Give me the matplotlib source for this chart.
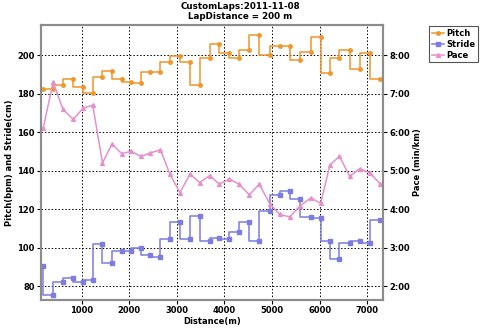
import matplotlib
matplotlib.use('Agg')
import matplotlib.pyplot as plt
from matplotlib.ticker import FuncFormatter

# 每圈距离 (m)
distance = [193, 400, 606, 824, 1027, 1231, 1437, 1637, 1841, 2040,
            2240, 2445, 2655, 2855, 3065, 3275, 3479, 3689, 3891, 4101,
            4305, 4521, 4731, 4950, 5160, 5370, 5586, 5811, 6021, 6216,
            6416, 6630, 6840, 7055, 7267]

# 步频 (bpm)
pitch = [182.5, 182.5, 184.5, 187.6, 183.6, 180.5, 188.4, 191.6, 187.4, 186.2,
         185.3, 191.3, 191.3, 196.2, 199.6, 196.2, 184.5, 198.3, 205.5, 201.2,
         198.4, 202.6, 210.5, 200.2, 204.7, 204.7, 197.4, 201.4, 209.5, 190.5,
         198.3, 202.6, 192.6, 201.2, 187.4]

# 步幅 (cm)
stride = [90.2, 75.3, 82.4, 84.1, 82.4, 83.1, 102.1, 92.2, 98.2, 98.3,
          100.0, 96.1, 95.1, 104.3, 113.4, 104.3, 116.2, 103.4, 104.8, 104.3,
          108.3, 113.3, 103.3, 119.1, 127.5, 129.3, 125.0, 116.0, 115.3, 103.4,
          94.2, 102.2, 103.3, 102.2, 114.2]

# 配速 (min/km)
pace = [6.11, 7.30, 6.59, 6.33, 6.62, 6.70, 5.20, 5.69, 5.44, 5.50,
        5.37, 5.46, 5.54, 4.90, 4.43, 4.91, 4.69, 4.87, 4.65, 4.78,
        4.65, 4.37, 4.65, 4.14, 3.86, 3.80, 4.08, 4.29, 4.15, 5.15,
        5.37, 4.85, 5.05, 4.94, 4.66]

x_ticks = [1000, 2000, 3000, 4000, 5000, 6000, 7000]
left_ticks = [80, 100, 120, 140, 160, 180, 200]
pace_ticks = [2, 3, 4, 5, 6, 7, 8]

c_pitch = '#F0962A'
c_stride = '#7C7CE2'
c_pace = '#E690CC'
frame = '#8C8C8C'

plt.rcParams['font.family'] = 'DejaVu Sans'
plt.rcParams['font.weight'] = 'bold'
fs = 6

fig = plt.figure(figsize=(4.8, 3.29), dpi=100)
ax = fig.add_axes([41/480, 1-300/329, (383-41)/480, (300-25)/329])
ay = ax.twinx()

# 步频和步幅画成阶梯线, 配速画在右轴
l1, = ax.plot(distance, pitch, drawstyle='steps', color=c_pitch, lw=1.1,
              marker='o', ms=2.5, label='Pitch')
l2, = ax.plot(distance, stride, drawstyle='steps', color=c_stride, lw=1.1,
              marker='s', ms=3.4, label='Stride')
l3, = ay.plot(distance, pace, color=c_pace, lw=1.1,
              marker='^', ms=2.8, label='Pace')

ax.set_xlim(145, 7330)
y0, y1 = 72.8, 215.6
ax.set_ylim(y0, y1)
ay.set_ylim((y0 - 40) / 20, (y1 - 40) / 20)

ax.set_xticks(x_ticks)
ax.set_yticks(left_ticks)
ay.set_yticks(pace_ticks)
ay.yaxis.set_major_formatter(FuncFormatter(lambda v, p: '%d:%02d' % (int(v), round((v % 1) * 60))))

ax.grid(True, color='black', linestyle=(0, (1.5, 2)), linewidth=0.7)
for a in (ax, ay):
    for s in a.spines.values():
        s.set_color(frame)
        s.set_linewidth(1.5)
    a.tick_params(labelsize=fs, length=3, width=0.8, pad=1.5)

ax.set_xlabel('Distance(m)', fontsize=fs, fontweight='bold', labelpad=1)
ax.set_ylabel('Pitch(bpm) and Stride(cm)', fontsize=fs, fontweight='bold', labelpad=2)
ay.set_ylabel('Pace (min/km)', fontsize=fs, fontweight='bold', labelpad=2)
# 标题居中于整张图
fig.text(0.5, 1 - 2/329, 'CustomLaps:2011-11-08\nLapDistance = 200 m', ha='center', va='top',
         fontsize=fs + 0.3, fontweight='bold', linespacing=1.1)

leg = fig.legend([l1, l2, l3], ['Pitch', 'Stride', 'Pace'], loc='upper left',
                 bbox_to_anchor=(429/480, 1-26/329), fontsize=fs,
                 fancybox=False, framealpha=1, edgecolor='#555555',
                 handlelength=1.5, handletextpad=0.3, borderpad=0.3,
                 labelspacing=0.25, borderaxespad=0)
leg.get_frame().set_linewidth(0.8)

fig.savefig('out.png', dpi=100)
